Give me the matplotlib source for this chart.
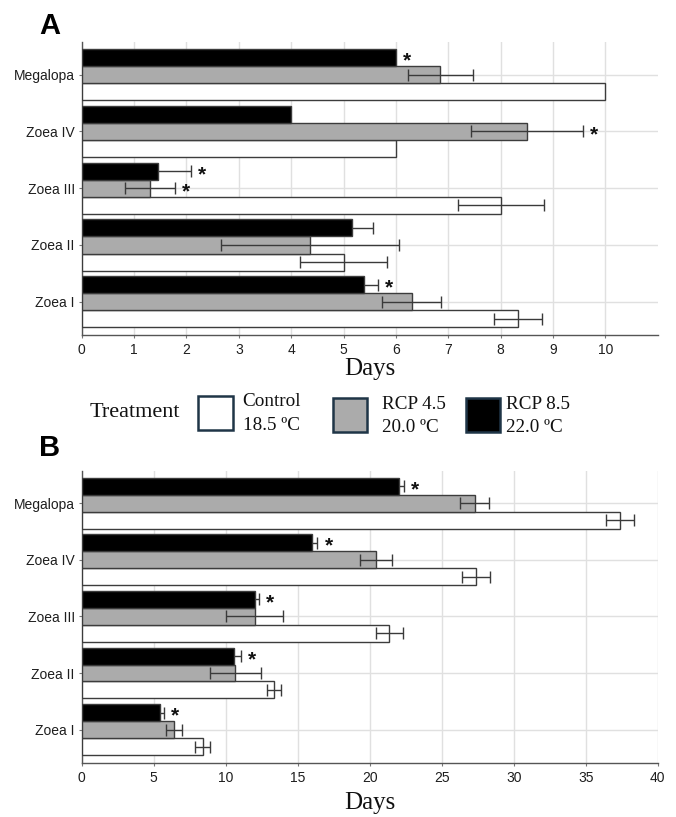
import numpy as np
import matplotlib
matplotlib.use("Agg")
import matplotlib.pyplot as plt
from matplotlib.patches import Rectangle

# Larval stages, bottom to top
stages = ["Zoea I", "Zoea II", "Zoea III", "Zoea IV", "Megalopa"]

# Panel A: duration of each stage (days)
ctrl_a = [8.33, 5.0, 8.0, 6.0, 10.0]
ctrl_a_err = [0.46, 0.83, 0.82, np.nan, np.nan]
rcp45_a = [6.30, 4.36, 1.30, 8.51, 6.85]
rcp45_a_err = [0.56, 1.70, 0.48, 1.07, 0.62]
rcp85_a = [5.39, 5.16, 1.45, 4.0, 6.0]
rcp85_a_err = [0.26, 0.40, 0.64, np.nan, np.nan]
rcp45_a_sig = [False, False, True, True, False]
rcp85_a_sig = [True, False, True, False, True]

# Panel B: cumulative days to reach each stage
ctrl_b = [8.40, 13.36, 21.37, 27.36, 37.37]
ctrl_b_err = [0.50, 0.48, 0.94, 0.97, 0.97]
rcp45_b = [6.40, 10.67, 12.0, 20.46, 27.3]
rcp45_b_err = [0.58, 1.78, 1.98, 1.10, 1.00]
rcp85_b = [5.41, 10.58, 12.0, 16.0, 22.03]
rcp85_b_err = [0.33, 0.50, 0.31, 0.37, 0.32]
rcp45_b_sig = [False, False, False, False, False]
rcp85_b_sig = [True, True, True, True, True]

treat_names = ["Control", "RCP 4.5", "RCP 8.5"]
treat_temps = ["18.5 \u00baC", "20.0 \u00baC", "22.0 \u00baC"]
treat_colors = ["#ffffff", "#ababab", "#000000"]

SANS = ["Liberation Sans", "DejaVu Sans"]
SERIF = ["Liberation Serif", "DejaVu Serif"]

W, H = 676, 817
fig = plt.figure(figsize=(W / 100, H / 100), dpi=100)


def fx(px):
    return px / W


def fy(py):
    return 1 - py / H


def panel(ax, series, errs, sigs, xmax, xticks, labelpad):
    y = np.arange(len(stages))
    bw = 0.30
    offsets = [-bw, 0.0, bw]
    for vals, err, sig, off, col in zip(series, errs, sigs, offsets, treat_colors):
        ax.barh(y + off, vals, height=bw, color=col, edgecolor="#3c3c3c",
                linewidth=1.0, zorder=3)
        # whiskers on the dark bars sit behind the bar, so only the upper arm shows
        ez = 2 if col == "#000000" else 4
        ax.errorbar(vals, y + off, xerr=err, fmt="none", ecolor="#3a3a3a",
                    elinewidth=1.0, capsize=4, capthick=1.0, zorder=ez)
        ends = np.array(vals) + np.nan_to_num(np.array(err, dtype=float))
        for yi, e, s in zip(y + off, ends, sig):
            if s:
                ax.annotate("*", xy=(e, yi), xytext=(8, -6.5),
                            textcoords="offset points", ha="center",
                            va="baseline", fontsize=15, fontweight="bold",
                            family=SANS, color="#111111", zorder=5)
    ax.set_xlim(0, xmax)
    ax.set_ylim(-0.585, len(stages) - 1 + 0.575)
    ax.set_xticks(xticks)
    ax.set_yticks(y)
    ax.set_yticklabels(stages)
    ax.grid(True, color="#e0e0e0", linewidth=1.0, zorder=0)
    ax.set_axisbelow(True)
    for s in ("top", "right"):
        ax.spines[s].set_visible(False)
    for s in ("left", "bottom"):
        ax.spines[s].set_color("#555555")
        ax.spines[s].set_linewidth(1.0)
    ax.tick_params(axis="both", length=2.5, width=0.8, color="#777777",
                   pad=2.5, labelsize=10, labelcolor="#1e1e1e")
    ax.tick_params(axis="x", pad=3.5)
    for lab in ax.get_xticklabels() + ax.get_yticklabels():
        lab.set_family(SANS)
    ax.set_xlabel("Days", fontsize=18, family=SERIF, color="#111111",
                  labelpad=labelpad)


ax_a = fig.add_axes([fx(81.7), fy(335), fx(657.7) - fx(81.7), fy(42) - fy(335)])
ax_b = fig.add_axes([fx(81.7), fy(762.7), fx(657.7) - fx(81.7), fy(470.7) - fy(762.7)])

panel(ax_a, [ctrl_a, rcp45_a, rcp85_a], [ctrl_a_err, rcp45_a_err, rcp85_a_err],
      [[False] * 5, rcp45_a_sig, rcp85_a_sig], 11, range(0, 11), 0.5)
panel(ax_b, [ctrl_b, rcp45_b, rcp85_b], [ctrl_b_err, rcp45_b_err, rcp85_b_err],
      [[False] * 5, rcp45_b_sig, rcp85_b_sig], 40, range(0, 41, 5), 5)

# Panel letters
fig.text(fx(50), fy(25.5), "A", fontsize=21, fontweight="bold", family=SANS,
         ha="center", va="center")
fig.text(fx(50), fy(448), "B", fontsize=21, fontweight="bold", family=SANS,
         ha="center", va="center")

# Shared treatment legend between the panels
fig.text(fx(180), fy(412.7), "Treatment", fontsize=16, family=SERIF,
         ha="right", va="center", color="#111111")
box_x = [198.5, 332.7, 465.7]
box_y = [395.5, 397.5, 397.5]
text_x = [242.7, 382.0, 506.0]
for bx, by, tx, name, temp, col in zip(box_x, box_y, text_x, treat_names,
                                       treat_temps, treat_colors):
    fig.patches.append(Rectangle((fx(bx), fy(by + 34.5)), fx(34.5), 34.5 / H,
                                 transform=fig.transFigure, facecolor=col,
                                 edgecolor="#1f3547", linewidth=1.8))
    fig.text(fx(tx), fy(by + 6.5), name, fontsize=13.8, family=SERIF,
             ha="left", va="center", color="#111111")
    fig.text(fx(tx), fy(by + 30.5), temp, fontsize=13.8, family=SERIF,
             ha="left", va="center", color="#111111")

fig.savefig("out.png", dpi=100)
